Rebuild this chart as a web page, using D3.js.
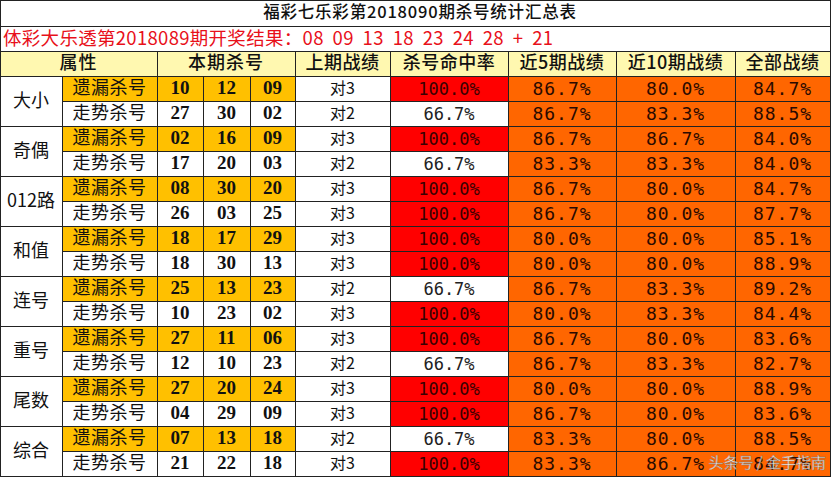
<!DOCTYPE html>
<html><head><meta charset="utf-8">
<script src="https://cdn.jsdelivr.net/npm/d3@7"></script>
<style>body{margin:0;background:#fff}text{white-space:pre}</style>
</head><body><div id="chart"></div>
<script>
var groups = ["大小", "奇偶", "012路", "和值", "连号", "重号", "尾数", "综合"];
var kinds = ["遗漏杀号", "走势杀号"];
var kills = [[10,12,9],[27,30,2],[2,16,9],[17,20,3],[8,30,20],[26,3,25],[18,17,29],[18,30,13],
             [25,13,23],[10,23,2],[27,11,6],[12,10,23],[27,20,24],[4,29,9],[7,13,18],[21,22,18]];
var lastResult = [3,2,3,2,3,3,3,3,2,3,3,2,3,3,2,3];
var hitRate = [100,66.7,100,66.7,100,100,100,100,66.7,100,100,66.7,100,100,66.7,100];
var last5 = [86.7,86.7,86.7,83.3,86.7,86.7,80.0,80.0,86.7,80.0,86.7,86.7,80.0,86.7,83.3,83.3];
var last10 = [80.0,83.3,86.7,83.3,80.0,80.0,80.0,80.0,83.3,83.3,80.0,83.3,80.0,80.0,80.0,86.7];
var allRate = [84.7,88.5,84.0,84.0,84.7,87.7,85.1,88.9,89.2,84.4,83.6,82.7,88.9,83.6,88.5,84.7];
var headers = ["属性", "本期杀号", "上期战绩", "杀号命中率", "近5期战绩", "近10期战绩", "全部战绩"];
var title = "福彩七乐彩第2018090期杀号统计汇总表";
var drawLine = "体彩大乐透第2018089期开奖结果：08  09  13  18  23  24  28  +  21";

var W = 831, H = 477;
var xs = [0, 62, 157, 203, 250, 295, 390, 508, 616, 735, 830];
var rowY = d3.scaleLinear().domain([0, 16]).range([76, 476]);
var svg = d3.select("#chart").append("svg").attr("width", W).attr("height", H);
var font = "'Noto Sans CJK SC', 'DejaVu Sans'";
var serif = "'Liberation Serif', 'DejaVu Serif'";
var mono = "'DejaVu Sans Mono', 'Liberation Mono'";
var pad = function (n) { return (n < 10 ? "0" : "") + n; };

function cell(x0, y0, x1, y1, fill, txt, opts) {
    opts = opts || {};
    svg.append("rect").attr("x", x0 + 0.5).attr("y", y0 + 0.5)
        .attr("width", x1 - x0).attr("height", y1 - y0)
        .attr("fill", fill).attr("stroke", "#222").attr("stroke-width", 1);
    if (txt != null) {
        svg.append("text").attr("x", opts.x != null ? opts.x : (x0 + x1) / 2).attr("y", (y0 + y1) / 2 + 1)
            .attr("text-anchor", opts.anchor || "middle").attr("dominant-baseline", "middle")
            .attr("font-family", opts.family || font).attr("font-size", opts.size || 17)
            .attr("font-weight", opts.weight || "normal").attr("fill", opts.color || "#111")
            .attr("letter-spacing", opts.ls || 0)
            .text(txt);
    }
}

cell(0, 0, 830, 26, "#fff", title, {x: 420, size: 16.5, weight: 500, ls: 0.8});
cell(0, 26, 830, 51, "#fff", drawLine, {x: 3, anchor: "start", color: "#e8101a", size: 18.5, ls: 0.3});

cell(xs[0], 51, xs[2], 76, "#fff8b0", headers[0], {size: 18, weight: 500, ls: 1});
cell(xs[2], 51, xs[5], 76, "#fff8b0", headers[1], {size: 18, weight: 500, ls: 1});
for (var i = 2; i < headers.length; i++) cell(xs[i + 3], 51, xs[i + 4], 76, "#fff8b0", headers[i], {size: 18, weight: 500, ls: 0.5});

kills.forEach(function (k, r) {
    var y0 = rowY(r), y1 = rowY(r + 1);
    var bg = r % 2 === 0 ? "#ffc000" : "#fff";
    cell(xs[1], y0, xs[2], y1, bg, kinds[r % 2], {size: 18, ls: 0.5});
    k.forEach(function (n, j) {
        cell(xs[2 + j], y0, xs[3 + j], y1, bg, pad(n), {family: serif, weight: "bold", size: 19});
    });
    cell(xs[5], y0, xs[6], y1, "#fff", "对" + lastResult[r], {size: 16});
    var full = hitRate[r] === 100;
    cell(xs[6], y0, xs[7], y1, full ? "#ff0000" : "#fff", hitRate[r].toFixed(1) + "%", {family: mono, size: 17, color: full ? "#3a0000" : "#222"});
    cell(xs[7], y0, xs[8], y1, "#ff6600", last5[r].toFixed(1) + "%", {family: mono, size: 18, color: "#2a0a00", ls: 1});
    cell(xs[8], y0, xs[9], y1, "#ff6600", last10[r].toFixed(1) + "%", {family: mono, size: 18, color: "#2a0a00", ls: 1});
    cell(xs[9], y0, xs[10], y1, "#ff6600", allRate[r].toFixed(1) + "%", {family: mono, size: 18, color: "#2a0a00", ls: 1});
});
groups.forEach(function (g, i) {
    cell(xs[0], rowY(i * 2), xs[1], rowY(i * 2 + 2), "#fff", g, {size: 18});
});
// watermark, as in the source image
svg.append("text").attr("x", 826).attr("y", 468).attr("text-anchor", "end")
    .attr("font-family", font).attr("font-size", 15).attr("fill", "#fff")
    .attr("stroke", "#777").attr("stroke-width", 0.4).attr("opacity", 0.9)
    .text("头条号 / 金手指南");
</script></body></html>
